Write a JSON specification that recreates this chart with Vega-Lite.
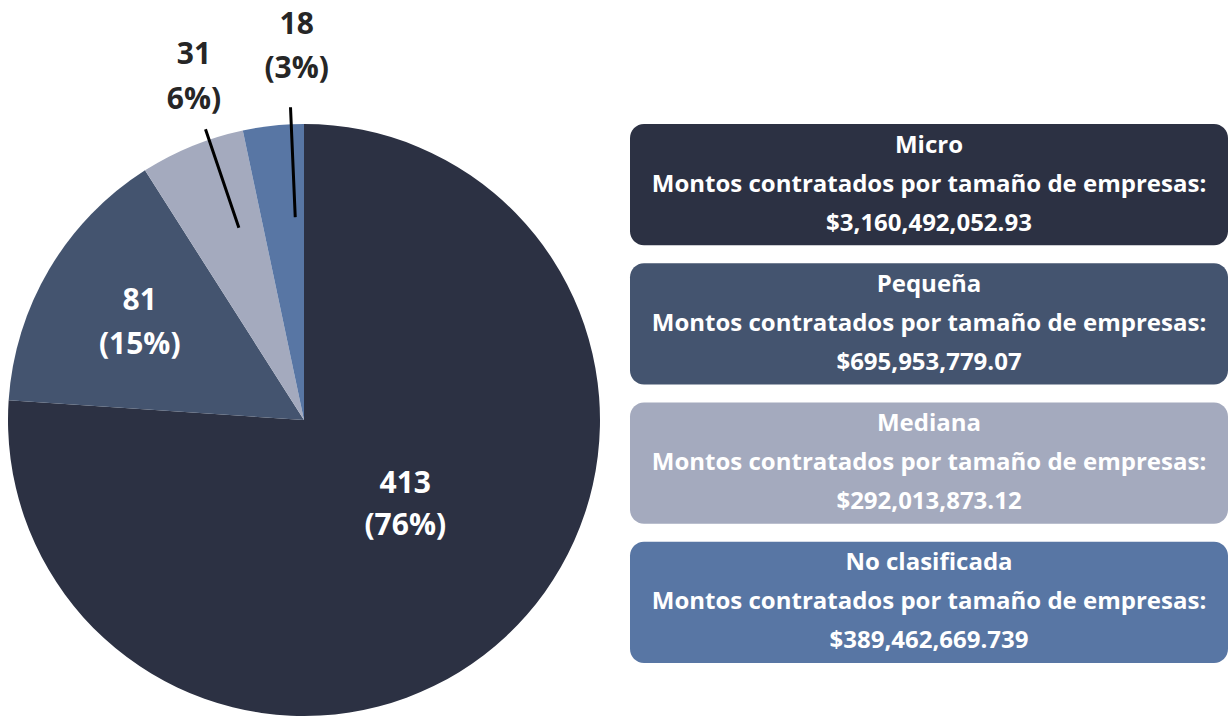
{
  "$schema": "https://vega.github.io/schema/vega-lite/v6.json",
  "autosize": {"type": "pad"},
  "padding": {"left": 8, "top": 9, "right": 0, "bottom": 0},
  "background": "#ffffff",
  "config": {"view": {"stroke": null}, "concat": {"spacing": 30}},
  "datasets": {
    "pie": [
      {"cat": "Micro", "order": 1, "value": 413, "label": "413\n(76%)", "box": "Micro\nMontos contratados por tamaño de empresas:\n$3,160,492,052.93"},
      {"cat": "Pequeña", "order": 2, "value": 81, "label": "81\n(15%)", "box": "Pequeña\nMontos contratados por tamaño de empresas:\n$695,953,779.07"},
      {"cat": "Mediana", "order": 3, "value": 31, "label": "31\n6%)", "box": "Mediana\nMontos contratados por tamaño de empresas:\n$292,013,873.12"},
      {"cat": "No clasificada", "order": 4, "value": 18, "label": "18\n(3%)", "box": "No clasificada\nMontos contratados por tamaño de empresas:\n$389,462,669.739"}
    ]
  },
  "hconcat": [
    {
      "width": 592,
      "height": 592,
      "data": {"name": "pie"},
      "encoding": {
        "theta": {"field": "value", "type": "quantitative", "stack": true},
        "order": {"field": "order", "type": "quantitative"}
      },
      "layer": [
        {
          "mark": {"type": "arc"},
          "encoding": {
            "color": {"field": "cat", "type": "nominal", "legend": null,
              "scale": {"domain": ["Micro", "Pequeña", "Mediana", "No clasificada"], "range": ["#2c3143", "#44546f", "#a4aabe", "#5876a4"]}}
          }
        },
        {
          "mark": {"type": "arc", "thetaOffset": 0.061, "padAngle": 0.6, "radius2": 203, "fill": "transparent", "stroke": "#000000", "strokeWidth": 3},
          "encoding": {
            "radius": {"field": "value", "type": "quantitative",
              "scale": {"type": "linear", "domain": [18, 31], "range": [313, 307], "zero": false, "nice": false}},
            "strokeOpacity": {"condition": {"test": "datum.value < 50", "value": 1}, "value": 0}
          }
        },
        {
          "mark": {"type": "text", "radius": 135, "dx": 9, "dy": -35, "font": "Open Sans", "fontWeight": "bold", "fontSize": 30, "lineBreak": "\n", "lineHeight": 42, "color": "#ffffff", "baseline": "middle", "align": "center"},
          "encoding": {"text": {"condition": {"test": "datum.cat === 'Micro'", "field": "label"}, "value": ""}}
        },
        {
          "mark": {"type": "text", "radius": 191, "dy": -22, "font": "Open Sans", "fontWeight": "bold", "fontSize": 30, "lineBreak": "\n", "lineHeight": 44, "color": "#ffffff", "baseline": "middle", "align": "center"},
          "encoding": {"text": {"condition": {"test": "datum.cat === 'Pequeña'", "field": "label"}, "value": ""}}
        },
        {
          "mark": {"type": "text", "radius": 360, "dx": 26, "dy": -32, "font": "Open Sans", "fontWeight": "bold", "fontSize": 30, "lineBreak": "\n", "lineHeight": 45, "color": "#262626", "baseline": "middle", "align": "center"},
          "encoding": {"text": {"condition": {"test": "datum.cat === 'Mediana'", "field": "label"}, "value": ""}}
        },
        {
          "mark": {"type": "text", "radius": 369, "dx": 31, "dy": -28, "font": "Open Sans", "fontWeight": "bold", "fontSize": 30, "lineBreak": "\n", "lineHeight": 44, "color": "#262626", "baseline": "middle", "align": "center"},
          "encoding": {"text": {"condition": {"test": "datum.cat === 'No clasificada'", "field": "label"}, "value": ""}}
        }
      ]
    },
    {
      "width": 598,
      "height": 539,
      "data": {"name": "pie"},
      "encoding": {
        "y": {"field": "cat", "type": "nominal", "axis": null,
          "sort": ["Micro", "Pequeña", "Mediana", "No clasificada"],
          "scale": {"paddingInner": 0.13, "paddingOuter": 0}}
      },
      "layer": [
        {
          "mark": {"type": "rect", "cornerRadius": 14},
          "encoding": {
            "color": {"field": "cat", "type": "nominal", "legend": null,
              "scale": {"domain": ["Micro", "Pequeña", "Mediana", "No clasificada"], "range": ["#2c3143", "#44546f", "#a4aabe", "#5876a4"]}}
          }
        },
        {
          "mark": {"type": "text", "font": "Open Sans", "fontWeight": "bold", "fontSize": 24, "lineBreak": "\n", "lineHeight": 39, "dy": -39, "color": "#ffffff", "baseline": "middle", "align": "center"},
          "encoding": {"text": {"field": "box"}}
        }
      ]
    }
  ]
}
